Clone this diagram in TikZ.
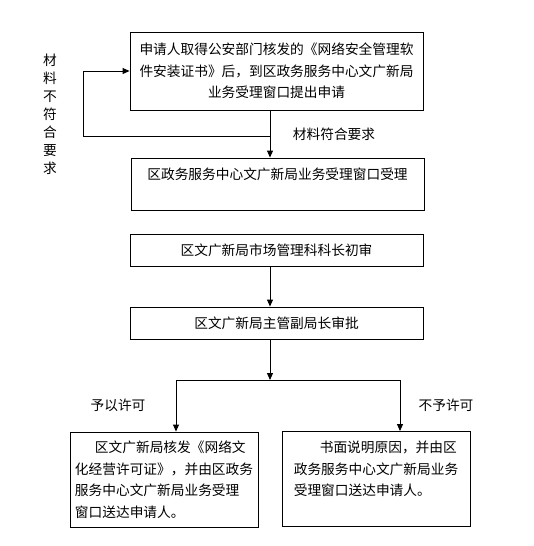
\documentclass[tikz,border=0pt]{standalone}
\usepackage{fontspec}
\setmainfont{Noto Sans CJK SC}
\usetikzlibrary{arrows.meta}

\begin{document}
\begin{tikzpicture}[x=1pt, y=-1pt, >={Triangle[length=7pt, width=6pt]},
  every node/.style={font=\fontsize{13.7}{21.5}\selectfont},
  box/.style={draw, line width=0.9pt, minimum width=293pt, inner sep=0pt, align=center},
  note/.style={draw, line width=0.9pt, minimum width=188pt, minimum height=95pt, inner sep=0pt, align=left},
  link/.style={line width=0.9pt}]
  \useasboundingbox (0,0) rectangle (534,546);
  % Main boxes
  \node[box, minimum height=78pt] (apply) at (276.5,71)
    {申请人取得公安部门核发的《网络安全管理软\\件安装证书》后，到区政务服务中心文广新局\\业务受理窗口提出申请};
  \node[box, minimum height=52pt] (accept) at (277.5,184)
    {区政务服务中心文广新局业务受理窗口受理\\\mbox{}};
  \node[box, minimum height=32pt] (review) at (276.5,250) {区文广新局市场管理科科长初审};
  \node[box, minimum height=32pt] (approve) at (276.5,323) {区文广新局主管副局长审批};
  % Result boxes
  \node[note] (grant) at (164,479.5)
    {\hspace*{20pt}区文广新局核发《网络文\\化经营许可证》，并由区政务\\服务中心文广新局业务受理\\窗口送达申请人。};
  \node[note] (refuse) at (376,479)
    {\hspace*{26pt}书面说明原因，并由区\\政务服务中心文广新局业务\\受理窗口送达申请人。\\\mbox{}};
  % Trunk and branch points
  \coordinate (tx) at (270,0);
  \coordinate (back) at (270,136);
  \coordinate (split) at (270,380);
  \coordinate (lx) at (176,0);
  \coordinate (rx) at (400,0);
  % Connectors
  \draw[link, ->] (tx |- apply.south) -- (tx |- accept.north);
  \draw[link, ->] (back) -- (83,136) |- (apply.west);
  \draw[link, ->] (tx |- review.south) -- (tx |- approve.north);
  \draw[link, ->] (tx |- approve.south) -- (split);
  \draw[link] (lx |- split) -- (rx |- split);
  \draw[link, ->] (lx |- split) -- (lx |- grant.north);
  \draw[link, ->] (rx |- split) -- (rx |- refuse.north);
  % Labels
  \node (ok) at (334,134) {材料符合要求};
  \node[align=center, font=\fontsize{13.7}{18}\selectfont] (notok) at (50,114)
    {材\\料\\不\\符\\合\\要\\求};
  \node (yes) at (118,405) {予以许可};
  \node (no) at (446,405) {不予许可};
\end{tikzpicture}
\end{document}
